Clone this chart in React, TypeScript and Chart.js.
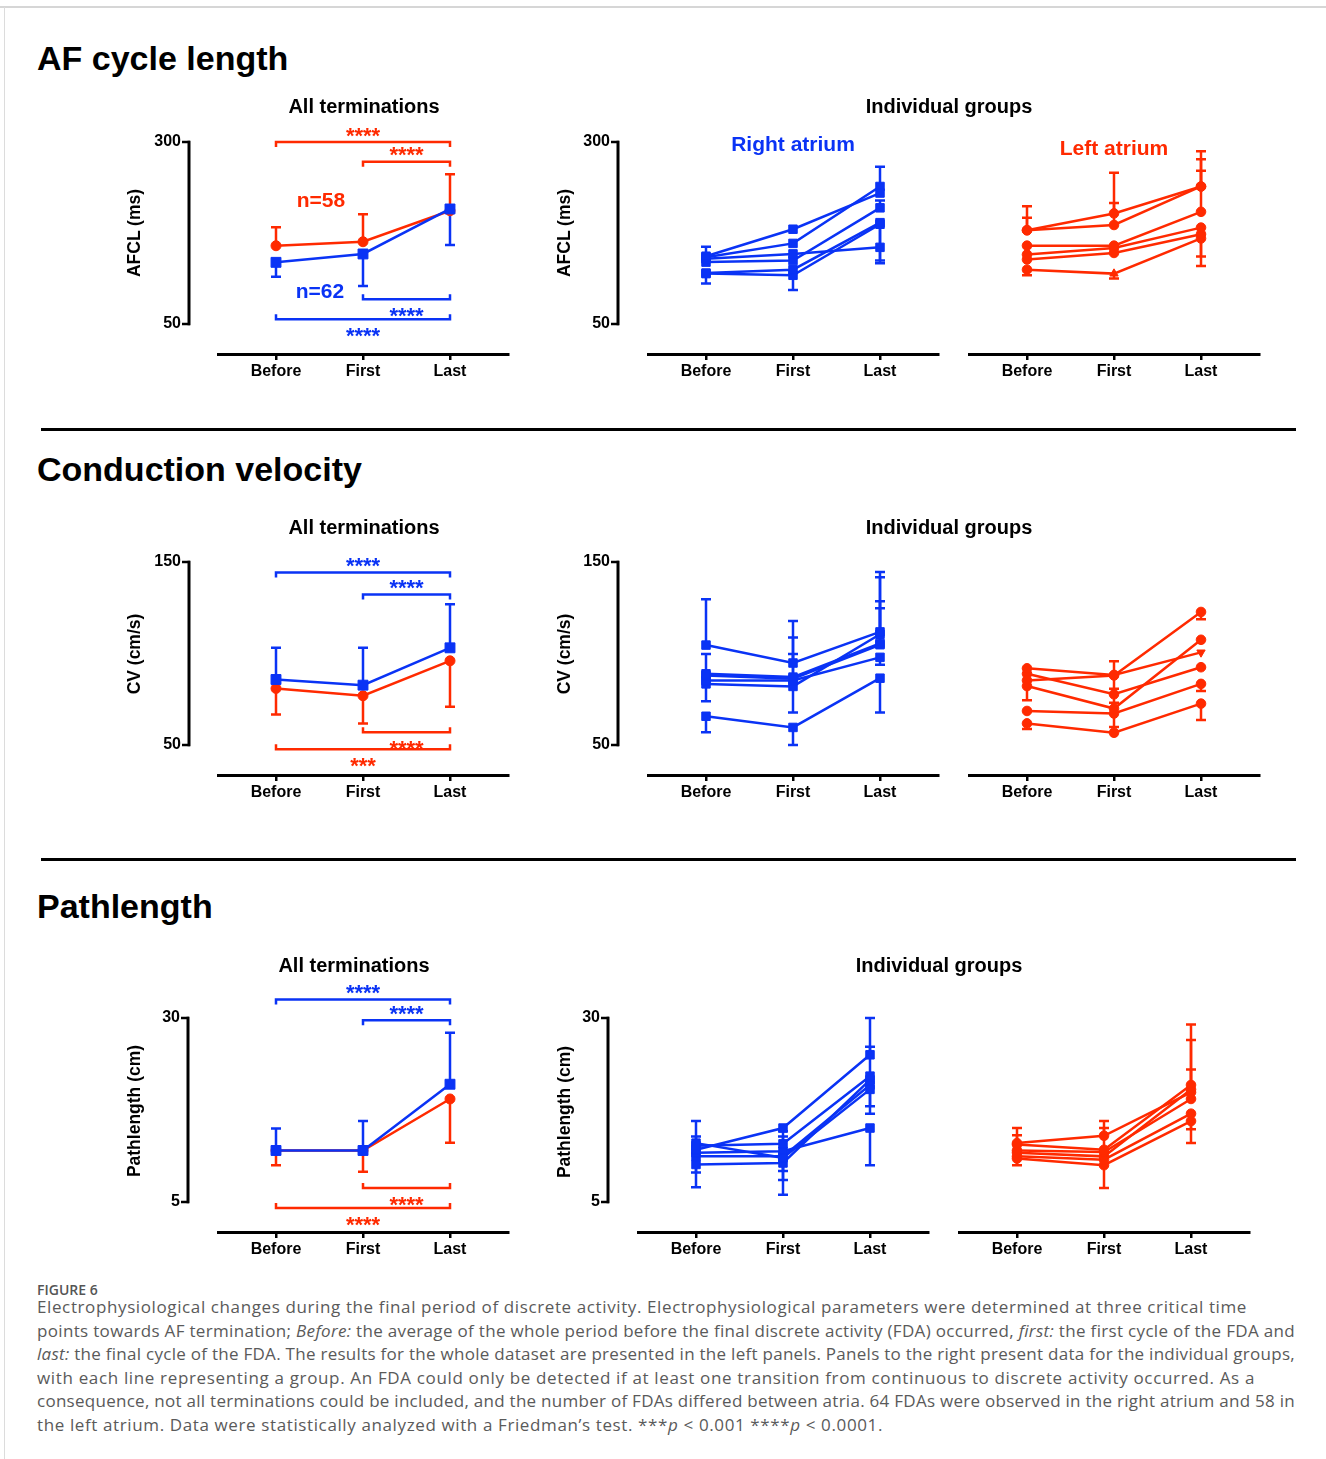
import React, { useEffect, useLayoutEffect, useRef } from "react";
import { Chart, registerables } from "chart.js";

Chart.register(...registerables);

const RED = "#ff2a00";
const BLUE = "#0a33f5";
const FONT = "'Liberation Sans', Arial, Helvetica, sans-serif";
const CAPFONT = "'Open Sans', 'Liberation Sans', sans-serif";

// ---------------- data ----------------
const categories = ["Before", "First", "Last"];

// AF cycle length (ms)
const afclTicks = [50, 300];
const afclAllRA = [134.7, 146.2, 208.0];
const afclAllRADown = [115.0, 102.2, 158.5];
const afclAllLA = [157.5, 163.0, 205.6];
const afclAllLAUp = [182.9, 200.7, 255.6];
const afclRA = [
  [143.1, 180.2, 229.9],
  [141.8, 160.7, 238.9],
  [139.5, 146.3, 155.3],
  [135.0, 137.2, 209.6],
  [120.0, 124.6, 189.2],
  [119.2, 116.9, 187.0],
];
const afclRAUp = [
  [null, null, null],
  [156.2, null, 266.0],
  [null, null, null],
  [null, null, 219.5],
  [null, null, null],
  [null, null, null],
];
const afclRADown = [
  [null, null, null],
  [null, null, null],
  [null, null, null],
  [null, null, null],
  [null, null, 137.2],
  [105.6, 96.6, 133.6],
];
const afclLA = [
  [178.8, 201.9, 238.9],
  [178.8, 186.0, 238.9],
  [157.6, 157.6, 204.1],
  [145.4, 154.4, 182.4],
  [138.6, 147.6, 173.4],
  [124.6, 119.2, 167.5],
];
const afclLAUp = [
  [211.8, 257.9, 287.3],
  [196.0, 216.3, 276.4],
  [null, null, 260.6],
  [null, null, null],
  [null, null, null],
  [null, null, null],
];
const afclLADown = [
  [null, null, null],
  [null, null, null],
  [null, null, null],
  [null, null, null],
  [null, null, 142.7],
  [116.9, 112.4, 129.6],
];
const afclBrackets = [
  { group: "LA", from: 0, to: 2, level: 300, stars: "****", side: "above" },
  { group: "LA", from: 1, to: 2, level: 273, stars: "****", side: "above" },
  { group: "RA", from: 1, to: 2, level: 84, stars: "****", side: "below" },
  { group: "RA", from: 0, to: 2, level: 56.5, stars: "****", side: "below" },
];

// Conduction velocity (cm/s)
const cvTicks = [50, 150];
const cvAllRA = [85.8, 82.7, 103.1];
const cvAllRAUp = [103.1, 103.1, 126.9];
const cvAllLA = [80.9, 76.9, 96.0];
const cvAllLADown = [66.7, 61.8, 70.9];
const cvRA = [
  [104.6, 94.8, 111.8],
  [88.9, 87.1, 105.5],
  [88.0, 86.2, 104.8],
  [85.3, 85.3, 97.9],
  [83.4, 82.0, 110.5],
  [65.7, 59.6, 86.5],
];
const cvRAUp = [
  [129.6, 117.8, 144.6],
  [99.7, 108.8, 141.7],
  [null, 99.7, 128.6],
  [null, null, null],
  [null, null, 124.7],
  [null, null, null],
];
const cvRADown = [
  [null, null, null],
  [null, null, null],
  [null, null, null],
  [73.9, null, 93.8],
  [null, 67.7, null],
  [56.9, 50.0, 67.7],
];
const cvLA = [
  [91.9, 88.3, 100.6],
  [85.3, 88.0, 122.7],
  [88.9, 77.7, 92.5],
  [82.2, 69.9, 107.5],
  [68.6, 67.2, 83.4],
  [61.8, 56.7, 72.6],
];
const cvLAUp = [
  [null, null, null],
  [null, 95.7, null],
  [null, null, null],
  [null, null, null],
  [null, null, null],
  [null, null, null],
];
const cvLADown = [
  [null, 80.7, null],
  [null, null, 118.7],
  [null, 73.1, null],
  [74.4, null, null],
  [null, 59.9, 79.5],
  [58.7, null, 63.6],
];
const cvBrackets = [
  { group: "RA", from: 0, to: 2, level: 144.2, stars: "****", side: "above" },
  { group: "RA", from: 1, to: 2, level: 132.3, stars: "****", side: "above" },
  { group: "LA", from: 1, to: 2, level: 56.9, stars: "****", side: "below" },
  { group: "LA", from: 0, to: 2, level: 47.7, stars: "***", side: "below" },
];

// Pathlength (cm)
const plTicks = [5, 30];
const plAllRA = [12.0, 12.0, 21.0];
const plAllRAUp = [15.0, 16.0, 28.0];
const plAllLA = [12.0, 12.0, 19.0];
const plAllLADown = [10.0, 9.1, 13.05];
const plRA = [
  [12.1, 15.05, 25.0],
  [13.0, 11.0, 20.3],
  [12.65, 12.9, 22.1],
  [11.7, 11.9, 15.05],
  [11.2, 11.2, 20.9],
  [10.1, 10.3, 21.6],
];
const plRAUp = [
  [16.0, null, 30.0],
  [null, null, null],
  [13.9, 13.9, null],
  [null, 14.6, null],
  [null, null, null],
  [null, null, 26.1],
];
const plRADown = [
  [null, null, null],
  [null, 9.2, null],
  [null, null, 18.0],
  [null, null, 10.0],
  [7.0, 8.0, 17.0],
  [9.0, 6.0, null],
];
const plLA = [
  [13.0, 14.0, 19.9],
  [12.8, 12.1, 20.9],
  [12.0, 11.8, 19.0],
  [11.7, 11.2, 20.3],
  [11.2, 10.75, 17.0],
  [10.9, 10.0, 16.0],
];
const plLAUp = [
  [15.05, 16.0, 23.0],
  [14.06, 15.05, 29.1],
  [null, null, null],
  [null, null, 27.0],
  [null, null, null],
  [null, null, null],
];
const plLADown = [
  [null, null, null],
  [null, null, null],
  [null, null, null],
  [null, null, null],
  [null, null, 14.9],
  [10.0, 6.9, 13.0],
];
const plBrackets = [
  { group: "RA", from: 0, to: 2, level: 32.5, stars: "****", side: "above" },
  { group: "RA", from: 1, to: 2, level: 29.7, stars: "****", side: "above" },
  { group: "LA", from: 1, to: 2, level: 6.9, stars: "****", side: "below" },
  { group: "LA", from: 0, to: 2, level: 4.2, stars: "****", side: "below" },
];

const captionLines = [
  "Electrophysiological changes during the final period of discrete activity. Electrophysiological parameters were determined at three critical time",
  "points towards AF termination; |Before:| the average of the whole period before the final discrete activity (FDA) occurred, |first:| the first cycle of the FDA and",
  "|last:| the final cycle of the FDA. The results for the whole dataset are presented in the left panels. Panels to the right present data for the individual groups,",
  "with each line representing a group. An FDA could only be detected if at least one transition from continuous to discrete activity occurred. As a",
  "consequence, not all terminations could be included, and the number of FDAs differed between atria. 64 FDAs were observed in the right atrium and 58 in",
  "the left atrium. Data were statistically analyzed with a Friedman\u2019s test. ***|p| < 0.001 ****|p| < 0.0001.",
];

// ---------------- rendering ----------------
const groupColor = (g: string) => (g === "RA" ? BLUE : RED);

const prismPlugin = {
  id: "prism",
  beforeDatasetsDraw(chart: any, _a: any, opts: any) {
    const { ctx } = chart;
    const xs = chart.scales.x;
    const ys = chart.scales.y;
    ctx.save();
    ctx.lineCap = "butt";
    chart.data.datasets.forEach((ds: any) => {
      ctx.strokeStyle = ds.borderColor;
      ctx.lineWidth = 2.5;
      ds.data.forEach((pt: any, i: number) => {
        [ds.errUp ? ds.errUp[i] : null, ds.errDown ? ds.errDown[i] : null].forEach((t: any) => {
          if (t == null) return;
          const px = xs.getPixelForValue(pt.x);
          const p0 = ys.getPixelForValue(pt.y);
          const p1 = ys.getPixelForValue(t);
          ctx.beginPath();
          ctx.moveTo(px, p0);
          ctx.lineTo(px, p1);
          ctx.moveTo(px - opts.cap, p1);
          ctx.lineTo(px + opts.cap, p1);
          ctx.stroke();
        });
      });
    });
    ctx.restore();
  },
  afterDraw(chart: any, _a: any, opts: any) {
    const { ctx, chartArea } = chart;
    const xs = chart.scales.x;
    const ys = chart.scales.y;
    ctx.save();
    if (opts.yGap != null) {
      const xl = chartArea.left - opts.yGap;
      const top = ys.getPixelForValue(opts.ticks[1]);
      const bot = ys.getPixelForValue(opts.ticks[0]);
      ctx.strokeStyle = "#000";
      ctx.lineWidth = 3;
      ctx.beginPath();
      ctx.moveTo(xl, top - 1.25);
      ctx.lineTo(xl, bot + 1.25);
      ctx.stroke();
      ctx.lineWidth = 2.5;
      [top, bot].forEach((py: number) => {
        ctx.beginPath();
        ctx.moveTo(xl - 7, py);
        ctx.lineTo(xl + 1, py);
        ctx.stroke();
      });
    }
    (opts.brackets || []).forEach((b: any) => {
      const col = groupColor(b.group);
      const py = ys.getPixelForValue(b.level);
      const x1 = xs.getPixelForValue(b.from);
      const x2 = xs.getPixelForValue(b.to);
      const dir = b.side === "above" ? 1 : -1;
      ctx.strokeStyle = col;
      ctx.fillStyle = col;
      ctx.lineWidth = 2.5;
      ctx.beginPath();
      ctx.moveTo(x1, py + dir * 5);
      ctx.lineTo(x1, py);
      ctx.lineTo(x2, py);
      ctx.lineTo(x2, py + dir * 5);
      ctx.stroke();
      ctx.font = `bold 22px ${FONT}`;
      ctx.textAlign = "center";
      ctx.textBaseline = "alphabetic";
      const cy = b.side === "above" ? py - 12 : py + 11.5;
      ctx.fillText(b.stars, (x1 + x2) / 2, cy + 0.57 * 22);
    });
    ctx.restore();
  },
};

const PAD = { l: 90, r: 12, t: 45, b: 40 };

function makeConfig(p: any) {
  const lo = p.ticks[0];
  const hi = p.ticks[1];
  const unitPerPx = (hi - lo) / (p.loPx - p.hiPx);
  const yMin = lo - (p.bottomPx - p.loPx) * unitPerPx;
  const showY = p.yLineX != null;
  const datasets = p.series.map((s: any) => ({
    data: s.values.map((v: number, i: number) => ({ x: i, y: v })),
    borderColor: s.color,
    backgroundColor: s.color,
    pointBackgroundColor: s.color,
    pointBorderColor: s.color,
    pointBorderWidth: 1,
    borderWidth: 2.5,
    pointRadius: s.radius,
    pointStyle: s.pointStyle,
    pointRotation: s.rotation || 0,
    tension: 0,
    fill: false,
    clip: false,
    errUp: s.up,
    errDown: s.down,
  }));
  return {
    type: "line",
    data: { datasets },
    options: {
      responsive: false,
      animation: false,
      events: [],
      layout: { padding: { left: 0, right: PAD.r, top: PAD.t, bottom: 0 } },
      plugins: {
        legend: { display: false },
        tooltip: { enabled: false },
        prism: {
          yGap: showY ? p.plotLeft - p.yLineX : null,
          ticks: p.ticks,
          brackets: p.brackets || [],
          cap: 5,
        },
      },
      scales: {
        x: {
          type: "linear",
          min: -2 / 3,
          max: 8 / 3,
          afterBuildTicks: (s: any) => {
            s.ticks = categories.map((_c, i) => ({ value: i }));
          },
          afterFit: (s: any) => {
            s.height = PAD.b;
          },
          ticks: {
            autoSkip: false,
            maxRotation: 0,
            minRotation: 0,
            padding: 2,
            color: "#000",
            font: { family: FONT, size: 16, weight: "bold" },
            callback: (v: any) => categories[Math.round(v)],
          },
          grid: {
            display: true,
            drawOnChartArea: false,
            drawTicks: true,
            tickLength: 6,
            color: "#000",
            lineWidth: 2.5,
          },
          border: { display: true, color: "#000", width: 3 },
        },
        y: {
          type: "linear",
          display: true,
          min: yMin,
          max: hi,
          afterBuildTicks: (s: any) => {
            s.ticks = p.ticks.map((v: number) => ({ value: v }));
          },
          afterFit: (s: any) => {
            s.width = PAD.l;
          },
          ticks: {
            display: showY,
            padding: 2,
            color: "#000",
            font: { family: FONT, size: 16, weight: "bold" },
            callback: (v: any) => String(v),
          },
          grid: {
            display: true,
            drawOnChartArea: false,
            drawTicks: true,
            tickLength: showY ? p.plotLeft - p.yLineX + 6 : 6,
            color: "rgba(0,0,0,0)",
          },
          border: { display: false },
        },
      },
    },
    plugins: [prismPlugin],
  };
}

function Panel({ spec }: { spec: any }) {
  const ref = useRef<HTMLCanvasElement>(null);
  const w = spec.plotRight - spec.plotLeft + PAD.l + PAD.r;
  const h = spec.bottomPx - spec.hiPx + PAD.t + PAD.b;
  useEffect(() => {
    const chart = new Chart(ref.current as HTMLCanvasElement, makeConfig(spec) as any);
    return () => chart.destroy();
  }, []);
  return (
    <canvas
      ref={ref}
      width={w}
      height={h}
      style={{ position: "absolute", left: spec.plotLeft - PAD.l, top: spec.hiPx - PAD.t, width: w, height: h }}
    />
  );
}

const allSeries = (ra: number[], raUp: any, raDown: any, la: number[], laUp: any, laDown: any) => [
  { values: ra, up: raUp, down: raDown, color: BLUE, pointStyle: "rect", radius: 7 },
  { values: la, up: laUp, down: laDown, color: RED, pointStyle: "circle", radius: 5 },
];

const groupSeries = (vals: number[][], ups: any[], downs: any[], color: string, style: string, radius: number, styles?: any, rots?: any) =>
  vals.map((v, g) => ({
    values: v,
    up: ups[g],
    down: downs[g],
    color,
    pointStyle: styles && styles[g] ? styles[g] : style,
    rotation: rots && rots[g] ? rots[g] : 0,
    radius,
  }));

const ROW1 = { hiPx: 142, loPx: 324, bottomPx: 354 };
const ROW2 = { hiPx: 562, loPx: 745, bottomPx: 775 };
const ROW3 = { hiPx: 1018, loPx: 1202, bottomPx: 1232 };

const panels = [
  { ...ROW1, plotLeft: 218, plotRight: 508, yLineX: 189, ticks: afclTicks, brackets: afclBrackets,
    series: allSeries(afclAllRA, null, afclAllRADown, afclAllLA, afclAllLAUp, null) },
  { ...ROW1, plotLeft: 648, plotRight: 938, yLineX: 618, ticks: afclTicks,
    series: groupSeries(afclRA, afclRAUp, afclRADown, BLUE, "rect", 6) },
  { ...ROW1, plotLeft: 969, plotRight: 1259, yLineX: null, ticks: afclTicks,
    series: groupSeries(afclLA, afclLAUp, afclLADown, RED, "circle", 4.8, [null, null, null, null, null, ["circle", "triangle", "circle"]]) },
  { ...ROW2, plotLeft: 218, plotRight: 508, yLineX: 189, ticks: cvTicks, brackets: cvBrackets,
    series: allSeries(cvAllRA, cvAllRAUp, null, cvAllLA, null, cvAllLADown) },
  { ...ROW2, plotLeft: 648, plotRight: 938, yLineX: 618, ticks: cvTicks,
    series: groupSeries(cvRA, cvRAUp, cvRADown, BLUE, "rect", 6) },
  { ...ROW2, plotLeft: 969, plotRight: 1259, yLineX: null, ticks: cvTicks,
    series: groupSeries(cvLA, cvLAUp, cvLADown, RED, "circle", 4.8, [["circle", "circle", "triangle"]], [[0, 0, 180]]) },
  { ...ROW3, plotLeft: 218, plotRight: 508, yLineX: 188, ticks: plTicks, brackets: plBrackets,
    series: allSeries(plAllRA, plAllRAUp, null, plAllLA, null, plAllLADown) },
  { ...ROW3, plotLeft: 638, plotRight: 928, yLineX: 608, ticks: plTicks,
    series: groupSeries(plRA, plRAUp, plRADown, BLUE, "rect", 6) },
  { ...ROW3, plotLeft: 959, plotRight: 1249, yLineX: null, ticks: plTicks,
    series: groupSeries(plLA, plLAUp, plLADown, RED, "circle", 4.8) },
];

// text helpers (baseline positioned)
function T({ x, base, size, color = "#000", weight = 700, center = false, children, family = FONT, k = 0.8465 }: any) {
  const style: any = {
    position: "absolute",
    left: x,
    top: base - k * size,
    fontSize: size,
    lineHeight: `${size}px`,
    fontWeight: weight,
    color,
    fontFamily: family,
    whiteSpace: "nowrap",
  };
  if (center) style.transform = "translateX(-50%)";
  return <div style={style}>{children}</div>;
}

function VT({ cx, cy, size, children }: any) {
  return (
    <div
      style={{
        position: "absolute",
        left: cx,
        top: cy,
        fontSize: size,
        lineHeight: `${size}px`,
        fontWeight: 700,
        fontFamily: FONT,
        color: "#000",
        whiteSpace: "nowrap",
        transform: "translate(-50%, -50%) rotate(-90deg)",
      }}
    >
      {children}
    </div>
  );
}

const CAPSIZE = 17;

function CaptionLine({ text, base, target }: any) {
  const ref = useRef<HTMLDivElement>(null);
  useLayoutEffect(() => {
    const el = ref.current as HTMLDivElement;
    el.style.letterSpacing = "0px";
    const w = el.getBoundingClientRect().width;
    const n = (el.textContent || "").length;
    el.style.letterSpacing = `${(target - 37 - w) / n}px`;
  }, []);
  const parts = text.split("|");
  return (
    <div
      ref={ref}
      style={{
        position: "absolute",
        left: 37,
        top: base - 0.888 * CAPSIZE,
        fontSize: CAPSIZE,
        lineHeight: `${CAPSIZE}px`,
        fontFamily: CAPFONT,
        color: "#5a5a5a",
        whiteSpace: "nowrap",
      }}
    >
      {parts.map((p: string, i: number) => (i % 2 === 1 ? <i key={i}>{p}</i> : <span key={i}>{p}</span>))}
    </div>
  );
}

const captionEnds = [1247, 1295, 1295, 1255, 1295, 883];

export default function App() {
  return (
    <div
      style={{
        position: "absolute",
        left: 0,
        top: 0,
        width: 1326,
        height: 1459,
        background: "#fff",
        overflow: "hidden",
      }}
    >
      <div style={{ position: "absolute", left: 0, top: 6, width: 1326, height: 2, background: "#d6d6d6" }} />
      <div style={{ position: "absolute", left: 4, top: 7, width: 1, height: 1452, background: "#dcdcdc" }} />

      <T x={37} base={70} size={34}>AF cycle length</T>
      <T x={37} base={481} size={34}>Conduction velocity</T>
      <T x={37} base={918} size={34}>Pathlength</T>

      <div style={{ position: "absolute", left: 41, top: 428, width: 1255, height: 3, background: "#000" }} />
      <div style={{ position: "absolute", left: 41, top: 858, width: 1255, height: 3, background: "#000" }} />

      {panels.map((p, i) => (
        <Panel key={i} spec={p} />
      ))}

      <T x={364} base={113} size={20} center>All terminations</T>
      <T x={949} base={113} size={20} center>Individual groups</T>
      <T x={364} base={534} size={20} center>All terminations</T>
      <T x={949} base={534} size={20} center>Individual groups</T>
      <T x={354} base={972} size={20} center>All terminations</T>
      <T x={939} base={972} size={20} center>Individual groups</T>

      <VT cx={135} cy={233} size={17.5}>AFCL (ms)</VT>
      <VT cx={565} cy={233} size={17.5}>AFCL (ms)</VT>
      <VT cx={135} cy={654} size={17.5}>CV (cm/s)</VT>
      <VT cx={565} cy={654} size={17.5}>CV (cm/s)</VT>
      <VT cx={135} cy={1111} size={17.5}>Pathlength (cm)</VT>
      <VT cx={565} cy={1112} size={17.5}>Pathlength (cm)</VT>

      <T x={321} base={207} size={21} center color={RED}>n=58</T>
      <T x={320} base={298} size={21} center color={BLUE}>n=62</T>
      <T x={793} base={151} size={21} center color={BLUE}>Right atrium</T>
      <T x={1114} base={155} size={21} center color={RED}>Left atrium</T>

      <T x={37} base={1295} size={14} weight={600} family={CAPFONT} color="#555" k={0.888}>FIGURE 6</T>
      {captionLines.map((line, i) => (
        <CaptionLine key={i} text={line} base={1313 + i * 23.6} target={captionEnds[i]} />
      ))}
    </div>
  );
}
